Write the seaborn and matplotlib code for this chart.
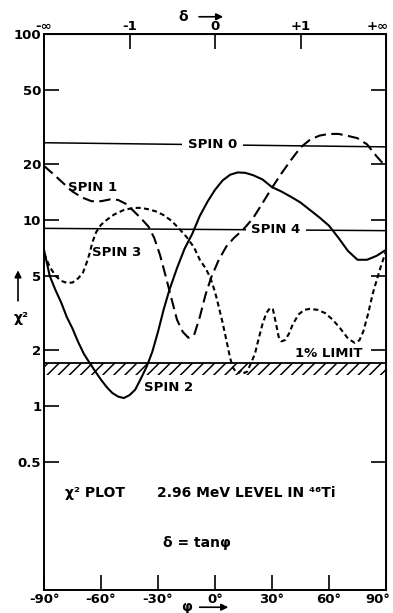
import numpy as np
import pandas as pd
import seaborn as sns
import matplotlib.pyplot as plt
from matplotlib.transforms import ScaledTranslation

# mixing angle phi (degrees) and chi^2 values
spin1_phi = [-90, -85, -80, -75, -70, -65, -60, -55, -51, -47, -43, -39, -35, -32, -29, -26, -23,
             -20, -17, -14, -11, -8, -5, -2, 2, 6, 10, 15, 20, 25, 30, 35, 40, 45, 50, 55, 60,
             65, 70, 75, 80, 85, 90]
spin1_chi = [19.5, 17.6, 15.8, 14.2, 13.2, 12.6, 12.6, 12.9, 12.8, 12.2, 11.2, 10.2, 9.2, 8.0,
             6.5, 5.0, 3.8, 2.9, 2.5, 2.32, 2.4, 3.0, 3.95, 4.9, 6.1, 7.2, 8.0, 8.9, 10.2, 12.3,
             14.9, 17.8, 21.0, 24.5, 27.0, 28.4, 29.0, 29.0, 28.3, 27.5, 25.5, 22.0, 19.3]

spin2_phi = [-90, -87, -84, -81, -78, -75, -72, -69, -66, -63, -60, -57, -54, -51, -48, -45, -42,
             -39, -36, -33, -30, -27, -24, -20, -16, -12, -8, -4, 0, 4, 8, 12, 16, 20, 25, 30,
             35, 40, 45, 50, 55, 60, 65, 70, 75, 80, 85, 90]
spin2_chi = [6.9, 5.0, 4.2, 3.6, 3.0, 2.6, 2.2, 1.9, 1.7, 1.53, 1.38, 1.26, 1.17, 1.12, 1.10,
             1.14, 1.22, 1.40, 1.62, 1.95, 2.5, 3.3, 4.2, 5.5, 7.0, 8.4, 10.5, 12.5, 14.5, 16.3,
             17.5, 18.0, 17.9, 17.4, 16.5, 15.0, 14.2, 13.3, 12.4, 11.3, 10.3, 9.3, 8.0, 6.8,
             6.1, 6.1, 6.4, 6.9]

spin3_phi = [-90, -87, -84, -81, -78, -75, -72, -69.5, -67.5, -66, -64.5, -62.5, -60, -57, -53,
             -48, -43, -39, -35, -31, -27, -23, -19, -15, -11, -8, -5, -2.5, 0, 2, 4, 6, 8, 9.5,
             11, 12.5, 14, 15.5, 17, 19, 21, 23, 25, 27, 29, 30.5, 32, 33.5, 35, 37, 39, 41, 44,
             47, 50, 54, 58, 62, 66, 70, 73.5, 76, 78, 80.5, 83, 85, 87, 90]
spin3_chi = [6.6, 5.6, 5.0, 4.7, 4.58, 4.6, 4.85, 5.2, 5.9, 6.6, 7.6, 8.6, 9.4, 10.0, 10.7, 11.3,
             11.6, 11.6, 11.4, 11.1, 10.6, 9.9, 9.0, 8.1, 7.1, 6.1, 5.5, 4.9, 4.1, 3.4, 2.8, 2.25,
             1.8, 1.6, 1.52, 1.5, 1.56, 1.5, 1.53, 1.7, 1.9, 2.3, 2.75, 3.15, 3.36, 3.3, 2.8,
             2.35, 2.22, 2.26, 2.45, 2.75, 3.1, 3.28, 3.32, 3.28, 3.15, 2.9, 2.6, 2.3, 2.18,
             2.25, 2.5, 3.1, 4.0, 4.7, 5.5, 6.8]

spin0_phi = [-90, 90]
spin0_chi = [26.0, 24.7]
spin4_phi = [-90, 90]
spin4_chi = [9.0, 8.75]

limit_top = 1.70
limit_bottom = 1.47

x_ticks = [-90, -60, -30, 0, 30, 60, 90]
x_labels = ['-90°', '-60°', '-30°', '0°', '30°', '60°', '90°']
delta_ticks = [-90, -45, 0, 45, 90]
delta_labels = ['-∞', '-1', '0', '+1', '+∞']
y_ticks = [0.5, 1, 2, 5, 10, 20, 50, 100]
y_labels = ['0.5', '1', '2', '5', '10', '20', '50', '100']
right_ticks = [0.5, 2, 5, 10, 20, 50]

sns.set_style('ticks')
plt.rcParams['font.family'] = ['DejaVu Sans']
plt.rcParams['font.weight'] = 'bold'
plt.rcParams['hatch.linewidth'] = 1.1
plt.rcParams['hatch.color'] = 'black'
for k in ['text.color', 'axes.labelcolor', 'xtick.color', 'ytick.color', 'axes.edgecolor']:
    plt.rcParams[k] = 'black'

fig = plt.figure(figsize=(3.93, 6.13), dpi=100)
ax = fig.add_axes([44 / 393, 23 / 613, 342 / 393, 556 / 613])
ax.set_yscale('log')

# horizontal reference lines
for phi, chi in [(spin0_phi, spin0_chi), (spin4_phi, spin4_chi)]:
    sns.lineplot(x=phi, y=chi, color='black', lw=1.1, estimator=None, ax=ax, zorder=2)

curves = pd.concat([
    pd.DataFrame({'phi': spin1_phi, 'chi2': spin1_chi, 'spin': 'SPIN 1'}),
    pd.DataFrame({'phi': spin2_phi, 'chi2': spin2_chi, 'spin': 'SPIN 2'}),
    pd.DataFrame({'phi': spin3_phi, 'chi2': spin3_chi, 'spin': 'SPIN 3'}),
])
styles = {'SPIN 1': (0, (5.5, 2.6)), 'SPIN 2': '-', 'SPIN 3': (0, (2.4, 1.6))}
for name, grp in curves.groupby('spin'):
    sns.lineplot(data=grp, x='phi', y='chi2', color='black', lw=1.5, linestyle=styles[name],
                 estimator=None, sort=False, ax=ax, zorder=4)

# 1% limit band
ax.axhspan(limit_bottom, limit_top, fill=False, hatch='///', edgecolor='black', lw=0, zorder=1)
ax.axhline(limit_top, color='black', lw=1.3, zorder=2)

ax.set_xlim(-90, 90)
ax.set_ylim(0.102, 100)
ax.set_xticks(x_ticks)
ax.set_xticklabels(x_labels, fontsize=9.5)
ax.set_yticks(y_ticks)
ax.set_yticklabels(y_labels, fontsize=9.5)
ax.minorticks_off()
ax.tick_params(direction='in', length=10.8, width=1.2, pad=2, right=False, top=False)
for s in ax.spines.values():
    s.set_linewidth(1.4)
ax.set_xlabel('')
ax.set_ylabel('')

top = ax.secondary_xaxis('top')
top.set_xticks(delta_ticks)
top.set_xticklabels(delta_labels, fontsize=9.5)
top.tick_params(direction='in', length=10.8, width=1.2, pad=1)

right = ax.secondary_yaxis('right')
right.set_yscale('log')
right.set_yticks(right_ticks)
right.set_yticklabels([])
right.minorticks_off()
right.tick_params(direction='in', length=10.8, width=1.2)

# nudge the right-most labels so they stay inside the figure
fig.canvas.draw()
shift = ScaledTranslation(-8 / 100, 0, fig.dpi_scale_trans)
for lbl in [ax.get_xticklabels()[-1], top.get_xticklabels()[-1]]:
    lbl.set_transform(lbl.get_transform() + shift)

lab = dict(fontsize=9.5, fontweight='bold', ha='center', va='center', zorder=3,
           bbox=dict(facecolor='white', edgecolor='none', pad=4))
ax.text(-1.3, 25.5, 'SPIN 0', **lab)
ax.text(32, 8.9, 'SPIN 4', **lab)
ax.text(-64.2, 15, 'SPIN 1', fontsize=9.5, ha='center', va='center')
ax.text(-52, 6.65, 'SPIN 3', fontsize=9.5, ha='center', va='center')
ax.text(-24.7, 1.25, 'SPIN 2', fontsize=9.5, ha='center', va='center')
ax.text(60, 1.9, '1% LIMIT', fontsize=9.5, ha='center', va='center')

ax.text(-79, 0.34, 'χ² PLOT', fontsize=10, ha='left', va='center')
ax.text(-30.5, 0.34, '2.96 MeV LEVEL IN ⁴⁶Ti', fontsize=10, ha='left', va='center')
ax.text(-9.5, 0.183, 'δ = tanφ', fontsize=10, ha='center', va='center')

# axis labels with arrows
ax.text(0.406, 1.031, 'δ', transform=ax.transAxes, fontsize=10, ha='center', va='center')
ax.annotate('', xy=(0.532, 1.031), xytext=(0.445, 1.031), xycoords='axes fraction',
            arrowprops=dict(arrowstyle='-|>', color='black', lw=1.2), annotation_clip=False)
ax.text(0.418, -0.031, 'φ', transform=ax.transAxes, fontsize=10, ha='center', va='center')
ax.annotate('', xy=(0.547, -0.031), xytext=(0.447, -0.031), xycoords='axes fraction',
            arrowprops=dict(arrowstyle='-|>', color='black', lw=1.2), annotation_clip=False)
ax.annotate('', xy=(-0.076, 0.58), xytext=(-0.076, 0.515), xycoords='axes fraction',
            arrowprops=dict(arrowstyle='-|>', color='black', lw=1.2), annotation_clip=False)
ax.text(-0.066, 0.489, 'χ²', transform=ax.transAxes, fontsize=10, ha='center', va='center')

fig.savefig('out.png', dpi=100)
